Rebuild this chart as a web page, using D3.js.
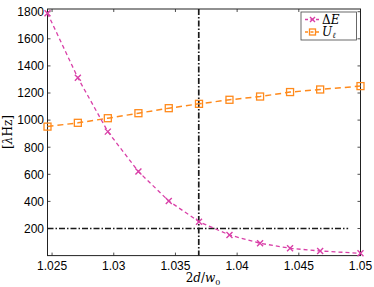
<!DOCTYPE html>
<html>
<head>
<meta charset="utf-8">
<script src="https://cdn.jsdelivr.net/npm/d3@7"></script>
<style>
  body { margin: 0; background: #fff; }
  svg { display: block; }
</style>
</head>
<body>
<div class="chart"></div>
<script>
// data
const xVals = [1.02463, 1.02709, 1.02952, 1.03200, 1.03446, 1.03691, 1.03938, 1.04186, 1.04429, 1.04673, 1.05];
const deltaE = [1788, 1312, 915, 620, 403, 250, 152, 91, 54, 34, 17];
const uEll = [952, 980, 1014, 1051, 1088, 1120, 1150, 1174, 1207, 1226, 1251];
const xTicks = [1.025, 1.03, 1.035, 1.04, 1.045, 1.05];
const yTicks = [200, 400, 600, 800, 1000, 1200, 1400, 1600, 1800];
const xMark = 1.03689;   // vertical dash-dot line
const yMark = 200;       // horizontal dash-dot line
const yMarkEnd = 1.049;

const width = 374, height = 287;
const margin = { top: 9, right: 13.5, bottom: 31.4, left: 47.5 };

const svg = d3.select('.chart')
  .append('svg')
    .attr('width', width)
    .attr('height', height);

const x = d3.scaleLinear()
  .domain([1.02463, 1.05])
  .range([margin.left, width - margin.right]);

const y = d3.scaleLinear()
  .domain([0, 1820])
  .range([height - margin.bottom, margin.top]);

const magenta = '#d940a8';
const orange = '#ff8a1c';

// box
svg.append('rect')
  .attr('x', x.range()[0])
  .attr('y', y.range()[1])
  .attr('width', x.range()[1] - x.range()[0])
  .attr('height', y.range()[0] - y.range()[1])
  .attr('fill', 'none')
  .attr('stroke', '#222')
  .attr('stroke-width', 1);

// inward ticks, all four sides
const tk = 3;
xTicks.forEach(t => {
  svg.append('line').attr('x1', x(t)).attr('x2', x(t))
    .attr('y1', y.range()[0]).attr('y2', y.range()[0] - tk)
    .attr('stroke', '#222').attr('stroke-width', 0.8);
  svg.append('line').attr('x1', x(t)).attr('x2', x(t))
    .attr('y1', y.range()[1]).attr('y2', y.range()[1] + tk)
    .attr('stroke', '#222').attr('stroke-width', 0.8);
});
yTicks.forEach(t => {
  svg.append('line').attr('y1', y(t)).attr('y2', y(t))
    .attr('x1', x.range()[0]).attr('x2', x.range()[0] + tk)
    .attr('stroke', '#222').attr('stroke-width', 0.8);
  svg.append('line').attr('y1', y(t)).attr('y2', y(t))
    .attr('x1', x.range()[1]).attr('x2', x.range()[1] - tk)
    .attr('stroke', '#222').attr('stroke-width', 0.8);
});

// tick labels
svg.selectAll('.xlab')
  .data(xTicks)
  .enter()
  .append('text')
    .attr('x', d => x(d))
    .attr('y', 269.5)
    .attr('text-anchor', 'middle')
    .style('font-family', 'Liberation Sans, Arial, sans-serif')
    .style('font-size', '12px')
    .text(d => d3.format('')(d));

svg.selectAll('.ylab')
  .data(yTicks)
  .enter()
  .append('text')
    .attr('x', 44)
    .attr('y', d => y(d) + 4.3)
    .attr('text-anchor', 'end')
    .style('font-family', 'Liberation Sans, Arial, sans-serif')
    .style('font-size', '12px')
    .text(d => d);

// axis titles
const xt = svg.append('text')
  .attr('x', 203)
  .attr('y', 282)
  .attr('text-anchor', 'middle')
  .style('font-family', 'DejaVu Serif, serif')
  .style('font-size', '12px');
xt.append('tspan').text('2');
xt.append('tspan').style('font-style', 'italic').text('d');
xt.append('tspan').text('/');
xt.append('tspan').style('font-style', 'italic').text('w');
xt.append('tspan').attr('dy', 2.5).style('font-size', '8px').text('0');

const yt = svg.append('text')
  .attr('transform', 'translate(12,132) rotate(-90)')
  .attr('text-anchor', 'middle')
  .style('font-family', 'DejaVu Serif, serif')
  .style('font-size', '12px');
yt.append('tspan').text('[');
yt.append('tspan').style('font-style', 'italic').text('λ');
yt.append('tspan').text('Hz]');

// reference dash-dot lines
svg.append('line')
  .attr('x1', x(xMark)).attr('x2', x(xMark))
  .attr('y1', y.range()[1]).attr('y2', y.range()[0])
  .attr('stroke', '#1a1a1a')
  .attr('stroke-width', 1.7)
  .attr('stroke-dasharray', '6,2,1.5,2');

svg.append('line')
  .attr('x1', x.range()[0]).attr('x2', x(yMarkEnd))
  .attr('y1', y(yMark)).attr('y2', y(yMark))
  .attr('stroke', '#1a1a1a')
  .attr('stroke-width', 1.4)
  .attr('stroke-dasharray', '6,2,1.5,2');

const line = d3.line()
  .x(d => x(d[0]))
  .y(d => y(d[1]));

const uData = xVals.map((v, i) => [v, uEll[i]]);
const eData = xVals.map((v, i) => [v, deltaE[i]]);

// U_l series
svg.append('path')
  .datum(uData)
  .attr('d', line)
  .attr('fill', 'none')
  .attr('stroke', orange)
  .attr('stroke-width', 1.5)
  .attr('stroke-dasharray', '6,4');

svg.selectAll('.sq')
  .data(uData)
  .enter()
  .append('rect')
    .attr('x', d => x(d[0]) - 3.5)
    .attr('y', d => y(d[1]) - 3.5)
    .attr('width', 7)
    .attr('height', 7)
    .attr('fill', 'none')
    .attr('stroke', orange)
    .attr('stroke-width', 1.3);

// Delta E series
svg.append('path')
  .datum(eData)
  .attr('d', line)
  .attr('fill', 'none')
  .attr('stroke', magenta)
  .attr('stroke-width', 1.3)
  .attr('stroke-dasharray', '4,3');

const cross = (g, cx, cy, r, col) => {
  g.append('path')
    .attr('d', `M${cx - r},${cy - r}L${cx + r},${cy + r}M${cx - r},${cy + r}L${cx + r},${cy - r}`)
    .attr('stroke', col)
    .attr('stroke-width', 1.4)
    .attr('fill', 'none');
};
eData.forEach(d => cross(svg, x(d[0]), y(d[1]), 3, magenta));

// legend
const lg = svg.append('g');
lg.append('rect')
  .attr('x', 301).attr('y', 12)
  .attr('width', 55.5).attr('height', 28)
  .attr('fill', '#fff')
  .attr('stroke', '#444')
  .attr('stroke-width', 0.8);

lg.append('line').attr('x1', 305).attr('x2', 320).attr('y1', 19.5).attr('y2', 19.5)
  .attr('stroke', magenta).attr('stroke-width', 1.3).attr('stroke-dasharray', '3,2.5');
cross(lg, 312.5, 19.5, 2.5, magenta);
lg.append('line').attr('x1', 305).attr('x2', 320).attr('y1', 32).attr('y2', 32)
  .attr('stroke', orange).attr('stroke-width', 1.5).attr('stroke-dasharray', '3,2.5');
lg.append('rect').attr('x', 309.5).attr('y', 29).attr('width', 6).attr('height', 6)
  .attr('fill', 'none').attr('stroke', orange).attr('stroke-width', 1.3);

const le = lg.append('text')
  .attr('x', 322).attr('y', 23.5)
  .style('font-family', 'DejaVu Serif, serif')
  .style('font-size', '12px');
le.append('tspan').text('Δ');
le.append('tspan').style('font-style', 'italic').text('E');

const lu = lg.append('text')
  .attr('x', 322).attr('y', 35.5)
  .style('font-family', 'DejaVu Serif, serif')
  .style('font-size', '12px');
lu.append('tspan').style('font-style', 'italic').text('U');
lu.append('tspan').attr('dy', 2).style('font-size', '8px').style('font-style', 'italic').text('ℓ');
</script>
</body>
</html>
